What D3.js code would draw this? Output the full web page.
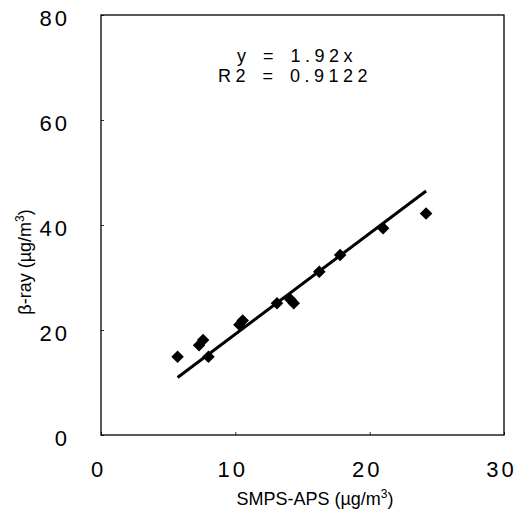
<!DOCTYPE html>
<html>
<head>
<meta charset="utf-8">
<script src="https://cdn.jsdelivr.net/npm/d3@7"></script>
<style>
  body { margin: 0; background: #fff; }
  text { font-family: "Liberation Sans", Arial, sans-serif; fill: #000; }
</style>
</head>
<body>
<svg id="chart"></svg>
<script>
// data
var smpsAps = [5.7, 7.3, 7.6, 8.0, 10.3, 10.55, 13.1, 14.1, 14.35, 16.25, 17.8, 21.0, 24.2];
var betaRay = [14.9, 17.1, 18.1, 14.9, 21.0, 21.8, 25.1, 25.8, 25.1, 31.1, 34.3, 39.4, 42.2];
var slope = 1.92;
var xTicks = [0, 10, 20, 30];
var yTicks = [0, 20, 40, 60, 80];

var W = 525, H = 517;
var svg = d3.select("#chart").attr("width", W).attr("height", H);

var xScale = d3.scaleLinear().domain([0, 30]).range([101, 504]);
var yScale = d3.scaleLinear().domain([0, 80]).range([435, 15]);

// frame
svg.append("rect")
  .attr("x", xScale(0)).attr("y", yScale(80))
  .attr("width", xScale(30) - xScale(0))
  .attr("height", yScale(0) - yScale(80))
  .attr("fill", "none").attr("stroke", "#000").attr("stroke-width", 1.3);

// x axis: tiny inward ticks, labels below
var xAxis = d3.axisBottom(xScale).tickValues(xTicks).tickSizeInner(-3).tickSizeOuter(0).tickPadding(26);
var gx = svg.append("g")
  .attr("transform", "translate(0," + yScale(0) + ")")
  .call(xAxis);
gx.select(".domain").remove();
gx.selectAll("line").attr("stroke-width", 0.8);
gx.selectAll("text")
  .attr("dx", -3)
  .style("font-size", "22px").style("letter-spacing", "3px");

var yAxis = d3.axisLeft(yScale).tickValues(yTicks).tickSizeInner(-3).tickSizeOuter(0).tickPadding(31);
var gy = svg.append("g")
  .attr("transform", "translate(" + xScale(0) + ",0)")
  .call(yAxis);
gy.select(".domain").remove();
gy.selectAll("line").attr("stroke-width", 0.8);
gy.selectAll("text")
  .attr("dy", "0.48em")
  .style("font-size", "22px").style("letter-spacing", "3px");

// fit line over the data range
var xMin = d3.min(smpsAps), xMax = d3.max(smpsAps);
svg.append("line")
  .attr("x1", xScale(xMin)).attr("y1", yScale(slope * xMin))
  .attr("x2", xScale(xMax)).attr("y2", yScale(slope * xMax))
  .attr("stroke", "#000").attr("stroke-width", 3);

// points
var points = smpsAps.map(function(d, i) { return { x: d, y: betaRay[i] }; });
svg.selectAll("path.pt")
  .data(points)
  .enter()
  .append("path")
  .attr("class", "pt")
  .attr("d", d3.symbol().type(d3.symbolDiamond2).size(100))
  .attr("transform", function(d) {
    return "translate(" + xScale(d.x) + "," + yScale(d.y) + ")";
  })
  .attr("fill", "#000");

// equation
svg.append("text")
  .attr("x", 297).attr("y", 62)
  .attr("text-anchor", "middle")
  .style("font-size", "18px").style("letter-spacing", "4.5px").style("word-spacing", "3px")
  .text("y = 1.92x");
svg.append("text")
  .attr("x", 295).attr("y", 82)
  .attr("text-anchor", "middle")
  .style("font-size", "18px").style("letter-spacing", "4.5px").style("word-spacing", "3px")
  .text("R2 = 0.9122");

// axis titles
var xt = svg.append("text")
  .attr("x", 315).attr("y", 505)
  .attr("text-anchor", "middle")
  .style("font-size", "18px");
xt.append("tspan").text("SMPS-APS (\u00b5g/m");
xt.append("tspan").attr("dy", -7).style("font-size", "12px").text("3");
xt.append("tspan").attr("dy", 7).text(")");

var yt = svg.append("text")
  .attr("transform", "translate(31,262) rotate(-90)")
  .attr("text-anchor", "middle")
  .style("font-size", "18px");
yt.append("tspan").text("\u03b2-ray  (\u00b5g/m");
yt.append("tspan").attr("dy", -7).style("font-size", "12px").text("3");
yt.append("tspan").attr("dy", 7).text(")");
</script>
</body>
</html>
